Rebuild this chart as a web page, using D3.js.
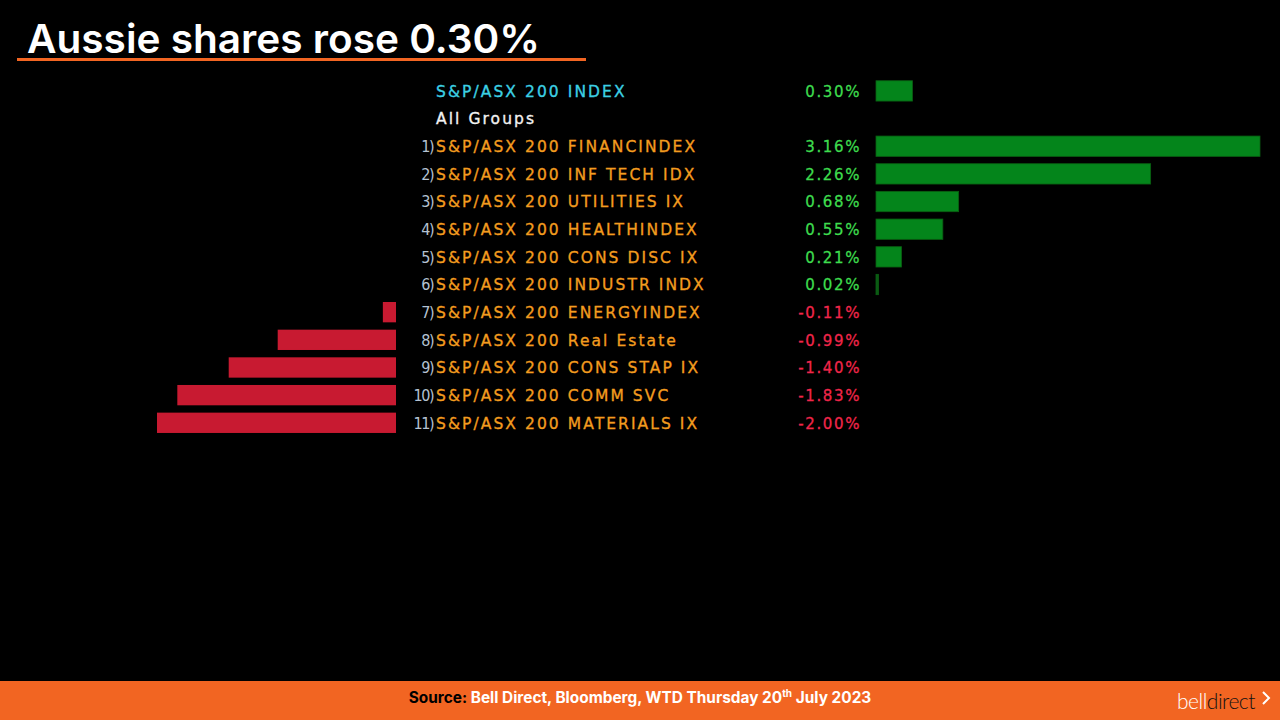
<!DOCTYPE html>
<html>
<head>
<meta charset="utf-8">
<script src="https://cdn.jsdelivr.net/npm/d3@7"></script>
<style>
  html, body { margin: 0; padding: 0; background: #000; }
  svg { display: block; }
</style>
</head>
<body>
<svg id="chart" width="1280" height="720"></svg>
<script>
// ---- data ----
const titleText = "Aussie shares rose 0.30%";
const indexLabel = "S&P/ASX 200 INDEX";
const indexValue = 0.30;
const groupLabel = "All Groups";
const sectorNames = [
  "S&P/ASX 200 FINANCINDEX",
  "S&P/ASX 200 INF TECH IDX",
  "S&P/ASX 200 UTILITIES IX",
  "S&P/ASX 200 HEALTHINDEX",
  "S&P/ASX 200 CONS DISC IX",
  "S&P/ASX 200 INDUSTR INDX",
  "S&P/ASX 200 ENERGYINDEX",
  "S&P/ASX 200 Real Estate",
  "S&P/ASX 200 CONS STAP IX",
  "S&P/ASX 200 COMM SVC",
  "S&P/ASX 200 MATERIALS IX"
];
const sectorValues = [3.16, 2.26, 0.68, 0.55, 0.21, 0.02, -0.11, -0.99, -1.40, -1.83, -2.00];
const sourceLead = "Source:";
const sourceText = "Bell Direct, Bloomberg, WTD Thursday 20";
const sourceSup = "th";
const sourceTail = " July 2023";

// ---- setup ----
const svg = d3.select("#chart");
svg.append("rect").attr("width", 1280).attr("height", 720).attr("fill", "#000");

// title
svg.append("text")
  .attr("x", 27).attr("y", 53)
  .attr("font-family", "Inter, Lato, sans-serif")
  .attr("font-weight", 600)
  .attr("font-size", 40)
  .attr("fill", "#fff")
  .attr("textLength", 513).attr("lengthAdjust", "spacingAndGlyphs")
  .text(titleText);
svg.append("rect").attr("x", 17).attr("y", 58).attr("width", 569).attr("height", 3).attr("fill", "#f26522");

// rows
const rowKeys = ["index", "groups"].concat(sectorNames.map((d, i) => "s" + i));
const y = d3.scalePoint().domain(rowKeys).range([90.9, 422.8]);
const step = y.step();
const barH = step * 0.735;

const xPos = d3.scaleLinear().domain([0, 3.16]).range([876, 1260]);
const xNeg = d3.scaleLinear().domain([-2.00, 0]).range([157, 396]);

const rows = [{key: "index", label: indexLabel, value: indexValue, num: null, color: "#3cd0e4"}]
  .concat(sectorNames.map((n, i) => ({key: "s" + i, label: n, value: sectorValues[i], num: (i + 1) + ")", color: "#f39c1f"})));

const fmt = d3.formatLocale({decimal: ".", thousands: ",", grouping: [3], currency: ["", ""], minus: "-"}).format(".2f");

// terminal-like text: DejaVu Sans squeezed horizontally, with letter spacing
const termFont = "'DejaVu Sans', 'Noto Sans', sans-serif";
const fs = 16.5, sx = 0.94, ls = 2.2;

// bars
const g = svg.append("g");
g.selectAll("rect.pos").data(rows.filter(d => d.value >= 0)).join("rect")
  .attr("class", "pos")
  .attr("x", xPos(0))
  .attr("y", d => y(d.key) - barH / 2)
  .attr("width", d => Math.max(1.5, xPos(d.value) - xPos(0)))
  .attr("height", barH)
  .attr("fill", d => d.value < 0.05 ? "#0b5a14" : "#04851b")
  .attr("stroke", "#0a5f12").attr("stroke-width", 0.8);

g.selectAll("rect.neg").data(rows.filter(d => d.value < 0)).join("rect")
  .attr("class", "neg")
  .attr("x", d => xNeg(d.value))
  .attr("y", d => y(d.key) - barH / 2)
  .attr("width", d => xNeg(0) - xNeg(d.value))
  .attr("height", barH)
  .attr("fill", "#c81a31");

// labels
g.selectAll("text.lbl").data(rows).join("text")
  .attr("class", "lbl")
  .attr("transform", d => `translate(436,${y(d.key)}) scale(${sx},1)`)
  .attr("dy", "0.36em")
  .attr("font-family", termFont)
  .attr("font-size", fs)
  .attr("letter-spacing", ls)
  .attr("fill", d => d.color)
  .attr("stroke", d => d.color).attr("stroke-width", 0.35)
  .text(d => d.label);

g.append("text")
  .attr("transform", `translate(436,${y("groups")}) scale(${sx},1)`)
  .attr("dy", "0.36em")
  .attr("font-family", termFont).attr("font-size", fs).attr("letter-spacing", ls)
  .attr("fill", "#f2f2f2").attr("stroke", "#f2f2f2").attr("stroke-width", 0.35)
  .text(groupLabel);

// row numbers
g.selectAll("text.num").data(rows.filter(d => d.num)).join("text")
  .attr("class", "num")
  .attr("x", 433)
  .attr("y", d => y(d.key))
  .attr("dy", "0.36em")
  .attr("text-anchor", "end")
  .attr("font-family", "'DejaVu Sans Condensed', 'Liberation Sans Narrow', sans-serif")
  .attr("font-size", 16)
  .attr("letter-spacing", -1.5)
  .attr("fill", "#b4c2d2")
  .text(d => d.num);

// values
g.selectAll("text.val").data(rows).join("text")
  .attr("class", "val")
  .attr("transform", d => `translate(${859 + ls * sx},${y(d.key)}) scale(${sx * 0.97},1)`)
  .attr("dy", "0.36em")
  .attr("text-anchor", "end")
  .attr("font-family", termFont)
  .attr("font-size", fs)
  .attr("letter-spacing", ls * 0.8)
  .attr("fill", d => d.value >= 0 ? "#3edc4e" : "#f0264a")
  .attr("stroke", d => d.value >= 0 ? "#3edc4e" : "#f0264a").attr("stroke-width", 0.3)
  .text(d => fmt(d.value) + "%");

// footer
svg.append("rect").attr("x", 0).attr("y", 681).attr("width", 1280).attr("height", 39).attr("fill", "#f26522");
const ft = svg.append("text")
  .attr("x", 640).attr("y", 703)
  .attr("text-anchor", "middle")
  .attr("font-family", "Inter, Lato, sans-serif")
  .attr("font-weight", 700)
  .attr("font-size", 15.4)
  .attr("fill", "#fff");
ft.append("tspan").attr("fill", "#000").text(sourceLead + " ");
ft.append("tspan").text(sourceText);
ft.append("tspan").attr("font-size", 10).attr("dy", -6).text(sourceSup);
ft.append("tspan").attr("dy", 6).text(sourceTail);

// logo
const logo = svg.append("text")
  .attr("x", 1177).attr("y", 709)
  .attr("font-family", "Lato, 'Open Sans', sans-serif")
  .attr("font-weight", 300)
  .attr("font-size", 21)
  .attr("letter-spacing", -0.5);
logo.append("tspan").attr("fill", "#fff").text("bell");
logo.append("tspan").attr("fill", "#111").text("direct");
svg.append("path")
  .attr("d", "M1263,692 L1269,698 L1263,704")
  .attr("fill", "none").attr("stroke", "#fff").attr("stroke-width", 2);
</script>
</body>
</html>
